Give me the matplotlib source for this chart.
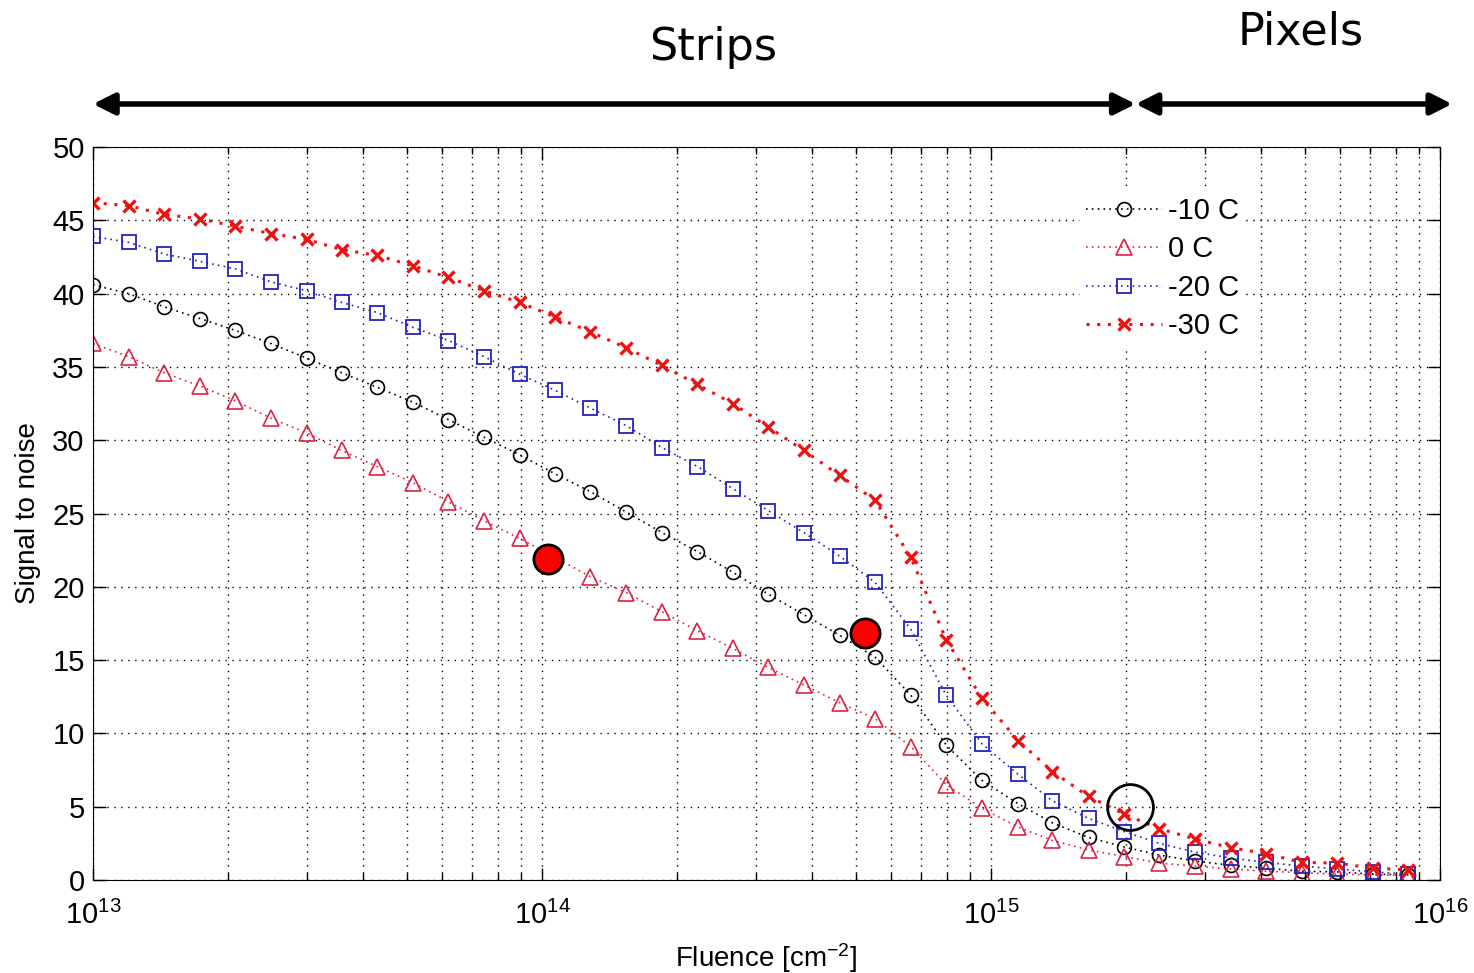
import matplotlib
matplotlib.use("Agg")
import matplotlib.pyplot as plt
from matplotlib.ticker import LogLocator, MultipleLocator, NullFormatter

plt.rcParams['font.family'] = ['Liberation Sans', 'DejaVu Sans']
plt.rcParams['mathtext.default'] = 'regular'

# Data
fluence = [1.00e13, 1.20e13, 1.44e13, 1.73e13, 2.07e13, 2.49e13, 2.99e13, 3.58e13,
           4.30e13, 5.16e13, 6.19e13, 7.43e13, 8.92e13, 1.07e14, 1.28e14, 1.54e14,
           1.85e14, 2.22e14, 2.66e14, 3.19e14, 3.83e14, 4.60e14, 5.52e14, 6.63e14,
           7.95e14, 9.54e14, 1.15e15, 1.37e15, 1.65e15, 1.98e15, 2.37e15, 2.85e15,
           3.42e15, 4.10e15, 4.92e15, 5.91e15, 7.09e15, 8.51e15]

sn_m10 = [40.6, 40.0, 39.1, 38.3, 37.5, 36.6, 35.6, 34.6, 33.6, 32.6, 31.4, 30.2,
          29.0, 27.7, 26.5, 25.1, 23.7, 22.4, 21.0, 19.5, 18.1, 16.7, 15.2, 12.6,
          9.2, 6.8, 5.2, 3.9, 2.9, 2.25, 1.7, 1.3, 1.0, 0.8, 0.6, 0.55, 0.4, 0.35]

sn_0 = [36.6, 35.7, 34.6, 33.7, 32.7, 31.5, 30.5, 29.3, 28.2, 27.1, 25.8, 24.5,
        23.3, 22.0, 20.7, 19.6, 18.3, 17.0, 15.8, 14.5, 13.3, 12.1, 11.0, 9.1,
        6.5, 4.9, 3.6, 2.7, 2.05, 1.6, 1.15, 0.95, 0.75, 0.6, 0.5, 0.4, 0.35, 0.3]

sn_m20 = [43.9, 43.5, 42.7, 42.2, 41.7, 40.8, 40.2, 39.4, 38.7, 37.7, 36.8, 35.7,
          34.5, 33.4, 32.2, 31.0, 29.5, 28.2, 26.7, 25.2, 23.7, 22.1, 20.3, 17.1,
          12.6, 9.3, 7.2, 5.4, 4.2, 3.3, 2.5, 1.9, 1.5, 1.2, 0.95, 0.75, 0.55, 0.4]

sn_m30 = [46.2, 46.0, 45.4, 45.1, 44.6, 44.1, 43.7, 43.0, 42.6, 41.9, 41.1, 40.2,
          39.4, 38.4, 37.4, 36.3, 35.1, 33.8, 32.5, 30.9, 29.3, 27.6, 25.9, 22.0,
          16.4, 12.4, 9.5, 7.4, 5.7, 4.5, 3.5, 2.8, 2.2, 1.8, 1.2, 1.15, 0.8, 0.7]

highlight_x = [1.03e14, 5.24e14]
highlight_y = [21.9, 16.85]
circle_x = [2.04e15]
circle_y = [5.0]

region_edges = [1.0e13, 2.1e15, 1.065e16]
region_names = ['Strips', 'Pixels']
region_label_x = [2.4e14, 4.9e15]

dot = (0, (1, 2.5))

fig = plt.figure(figsize=(14.74, 9.73), dpi=100)
ax = fig.add_axes([0.0631, 0.0956, 0.9138, 0.7533])

ax.plot(fluence, sn_m10, color='black', linestyle=dot, lw=1.2, marker='o',
        ms=10, mfc='none', mec='black', mew=1.2, label='-10 C')
ax.plot(fluence, sn_0, color='#dd2244', linestyle=dot, lw=1.2, marker='^',
        ms=11, mfc='none', mec='#dd2244', mew=1.2, label='0 C')
ax.plot(fluence, sn_m20, color='#2222bb', linestyle=dot, lw=1.2, marker='s',
        ms=10, mfc='none', mec='#2222bb', mew=1.3, label='-20 C')
ax.plot(fluence, sn_m30, color='#ee1111', linestyle=dot, lw=2.2, marker='x',
        ms=9, mec='#ee1111', mew=2.4, label='-30 C')

ax.plot(highlight_x, highlight_y, linestyle='none', marker='o', ms=21,
        mfc='#ff0000', mec='black', mew=2)
ax.plot(circle_x, circle_y, linestyle='none', marker='o', ms=33,
        mfc='none', mec='black', mew=2)

ax.set_xscale('log')
ax.set_xlim(1e13, 1e16)
ax.set_ylim(0, 50)
ax.yaxis.set_major_locator(MultipleLocator(5))
ax.xaxis.set_major_locator(LogLocator(base=10, numticks=10))
ax.xaxis.set_minor_locator(LogLocator(base=10, subs=range(2, 10), numticks=20))
ax.xaxis.set_minor_formatter(NullFormatter())

ax.grid(True, which='major', color='black', linestyle=(0, (1, 4)), lw=1)
ax.grid(True, which='minor', axis='x', color='black', linestyle=(0, (1, 4)), lw=1)

ax.tick_params(which='both', direction='in', top=True, right=True, labelsize=21, width=1)
ax.tick_params(which='major', length=9)
ax.tick_params(which='minor', length=5)
ax.tick_params(axis='x', pad=15)
ax.tick_params(axis='y', pad=6)

ax.set_xlabel('Fluence [cm$^{-2}$]', fontsize=20, labelpad=8)
ax.set_ylabel('Signal to noise', fontsize=20, labelpad=8)

leg = ax.legend(loc='upper right', bbox_to_anchor=(0.866, 0.96), fontsize=21,
                frameon=True, edgecolor='none', facecolor='white', framealpha=1,
                handlelength=2.6, handletextpad=0.2, labelspacing=0.36,
                borderpad=0.2)

# Region arrows above the plot
trans = ax.get_xaxis_transform()
for i in range(len(region_names)):
    ax.annotate('', xy=(region_edges[i + 1], 1.0587), xytext=(region_edges[i], 1.0587),
                xycoords=trans, textcoords=trans, annotation_clip=False,
                arrowprops=dict(arrowstyle='<|-|>', color='black', lw=4,
                                mutation_scale=32, shrinkA=0, shrinkB=0))
ax.text(region_label_x[0], 1.136, region_names[0], transform=trans, ha='center',
        va='center', fontsize=32, family='DejaVu Sans')
ax.text(region_label_x[1], 1.157, region_names[1], transform=trans, ha='center',
        va='center', fontsize=32, family='DejaVu Sans')

fig.savefig('out.png', dpi=100)
